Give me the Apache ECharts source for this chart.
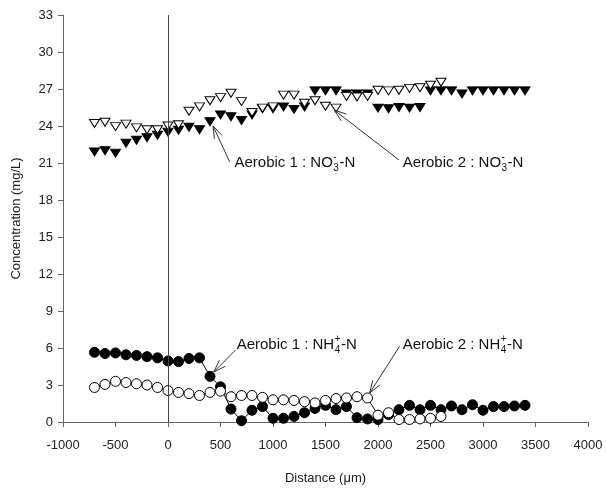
<!DOCTYPE html>
<html><head><meta charset="utf-8">
<script src="https://cdn.jsdelivr.net/npm/echarts@6/dist/echarts.min.js"></script>
<style>html,body{margin:0;padding:0;background:#fff}#c{width:606px;height:490px}</style>
</head><body><div id="c"></div>
<script>
// Distances (µm)
const distA1 = [-700,-600,-500,-400,-300,-200,-100,0,100,200,300,400,500,600,700,800,900,1000,1100,1200,1300,1400,1500,1600,1700,1800,1900,2000,2100,2200,2300,2400,2500,2600,2700,2800,2900,3000,3100,3200,3300,3400];
const distA2 = [-700,-600,-500,-400,-300,-200,-100,0,100,200,300,400,500,600,700,800,900,1000,1100,1200,1300,1400,1500,1600,1700,1800,1900,2000,2100,2200,2300,2400,2500,2600];
// NO3- -N (mg/L)
const no3A1 = [21.9,22.0,21.8,22.6,22.85,23.05,23.25,23.5,23.65,23.9,23.7,24.35,24.9,24.75,24.45,24.9,25.4,25.4,25.55,25.35,25.55,26.85,26.85,26.85,26.6,26.6,26.6,25.45,25.4,25.5,25.45,25.5,26.85,26.85,26.85,26.6,26.85,26.85,26.85,26.85,26.85,26.85];
const no3A2 = [24.2,24.3,23.95,24.15,23.85,23.7,23.7,24.0,24.1,25.2,25.55,26.05,26.3,26.65,25.98,25.1,25.45,25.55,26.5,26.5,25.85,26.05,25.6,25.45,26.4,26.35,26.4,26.9,26.85,26.9,27.05,27.1,27.3,27.55];
// NH4+ -N (mg/L)
const nh4A1 = [5.65,5.55,5.6,5.45,5.4,5.3,5.2,4.95,4.9,5.15,5.2,3.7,2.85,1.05,0.1,0.95,1.25,0.3,0.3,0.45,0.75,1.1,1.35,1.0,1.25,0.35,0.25,0.2,0.6,1.0,1.35,1.0,1.35,1.0,1.3,1.0,1.4,0.95,1.25,1.25,1.3,1.35];
const nh4A2 = [2.8,3.05,3.3,3.2,3.1,3.0,2.8,2.55,2.4,2.3,2.15,2.4,2.5,2.05,2.15,2.15,2.0,1.8,1.8,1.75,1.65,1.55,1.75,1.9,1.95,2.05,1.95,0.55,0.75,0.2,0.2,0.25,0.3,0.45];
// Axis ticks
const xTicks = {min:-1000, max:4000, step:500};
const yTicks = {min:0, max:33, step:3};
// Annotations (data coordinates)
const annotations = [
  {pre:'Aerobic 1 : NO', sub:'3', sup:'-', post:'-N', text:[633,21.0], tail:[587,21.1], tip:[429,24.0]},
  {pre:'Aerobic 2 : NO', sub:'3', sup:'-', post:'-N', text:[2235,21.0], tail:[2199,21.25], tip:[1582,25.3]},
  {pre:'Aerobic 1 : NH', sub:'4', sup:'+', post:'-N', text:[654,6.25], tail:[645,5.85], tip:[435,4.05]},
  {pre:'Aerobic 2 : NH', sub:'4', sup:'+', post:'-N', text:[2235,6.25], tail:[2206,6.15], tip:[1921,2.35]}
];

const FONT = '"Liberation Sans", Arial, Helvetica, sans-serif';
const chart = echarts.init(document.getElementById('c'), null, {renderer:'canvas'});
const pairs = (xs, ys) => xs.map((x, i) => [x, ys[i]]);
const axisCommon = {
  type:'value',
  nameLocation:'middle',
  nameTextStyle:{fontFamily:FONT, fontSize:13, color:'#222'},
  axisLine:{show:true, onZero:false, lineStyle:{color:'#666', width:1}},
  axisTick:{show:true, length:5, lineStyle:{color:'#666'}},
  axisLabel:{fontFamily:FONT, fontSize:13, color:'#222', formatter:v => String(v)},
  splitLine:{show:false}
};
chart.setOption({
  animation:false,
  backgroundColor:'#fff',
  grid:{left:63, right:18, top:15, bottom:68},
  xAxis:Object.assign({}, axisCommon, {
    min:xTicks.min, max:xTicks.max, interval:xTicks.step,
    name:'Distance (\u03bcm)', nameGap:50,
    axisLabel:Object.assign({}, axisCommon.axisLabel, {margin:17})
  }),
  yAxis:Object.assign({}, axisCommon, {
    min:yTicks.min, max:yTicks.max, interval:yTicks.step,
    name:'Concentration (mg/L)', nameGap:40,
    axisLabel:Object.assign({}, axisCommon.axisLabel, {margin:10})
  }),
  series:[
    {type:'line', data:pairs(distA1, nh4A1), symbol:'circle', symbolSize:10,
     itemStyle:{color:'#000', borderColor:'#000', borderWidth:1}, lineStyle:{color:'#000', width:1}, z:2,
     markLine:{silent:true, symbol:['none','none'], label:{show:false}, lineStyle:{color:'#444', width:1, type:'solid'}, data:[{xAxis:0}]}},
    {type:'line', data:pairs(distA2, nh4A2), symbol:'circle', symbolSize:10,
     itemStyle:{color:'#fff', borderColor:'#000', borderWidth:1}, lineStyle:{color:'#000', width:1}, z:3},
    {type:'scatter', data:pairs(distA1, no3A1), symbol:'triangle', symbolRotate:180, symbolSize:[10,8],
     itemStyle:{color:'#000', borderColor:'#000', borderWidth:1, opacity:1}, z:2},
    {type:'scatter', data:pairs(distA2, no3A2), symbol:'triangle', symbolRotate:180, symbolSize:[10,8],
     itemStyle:{color:'#fff', borderColor:'#000', borderWidth:1, opacity:1}, z:3}
  ]
});

const mctx = document.createElement('canvas').getContext('2d');
function tw(s, size){ mctx.font = size + 'px ' + FONT; return mctx.measureText(s).width; }
function px(p){ return chart.convertToPixel({xAxisIndex:0, yAxisIndex:0}, p); }
const BASE = 15, SMALL = 10;
const graphics = [];
annotations.forEach(a => {
  const t = px(a.text), p0 = px(a.tail), p1 = px(a.tip);
  const w1 = tw(a.pre, BASE);
  const ws = Math.max(tw(a.sub, SMALL), tw(a.sup, SMALL));
  const txt = (s, x, y, size) => ({type:'text', z:10, style:{text:s, x:x, y:y, align:'left', verticalAlign:'middle', font:size + 'px ' + FONT, fill:'#111'}});
  graphics.push(txt(a.pre, t[0], t[1], BASE));
  graphics.push(txt(a.sub, t[0] + w1 + 0.5, t[1] + 5, SMALL));
  graphics.push(txt(a.sup, t[0] + w1 + 0.5, t[1] - 6, SMALL));
  graphics.push(txt(a.post, t[0] + w1 + ws + 1, t[1], BASE));
  graphics.push({type:'line', z:10, shape:{x1:p0[0], y1:p0[1], x2:p1[0], y2:p1[1]}, style:{stroke:'#333', lineWidth:1}});
  const ang = Math.atan2(p0[1]-p1[1], p0[0]-p1[0]);
  const L = 13, da = 0.33;
  [ang-da, ang+da].forEach(b => {
    graphics.push({type:'line', z:10, shape:{x1:p1[0], y1:p1[1], x2:p1[0]+L*Math.cos(b), y2:p1[1]+L*Math.sin(b)}, style:{stroke:'#333', lineWidth:1}});
  });
});
chart.setOption({graphic:graphics});
</script>
</body></html>
